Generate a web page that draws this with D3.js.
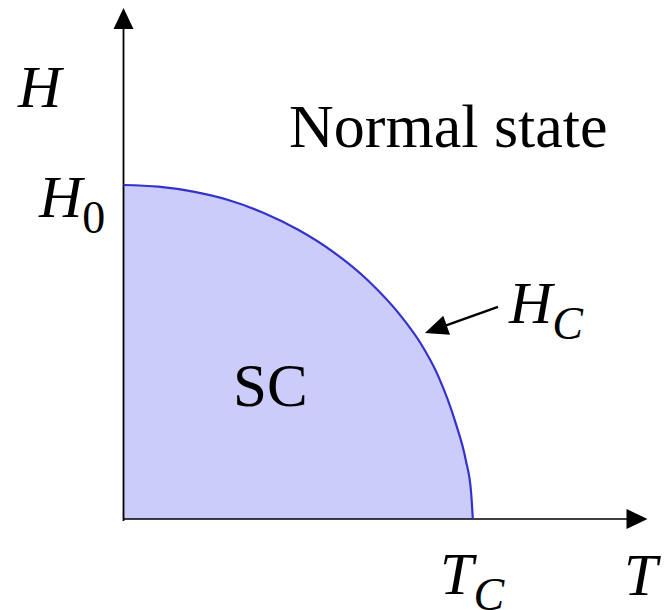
<!DOCTYPE html>
<html>
<head>
<meta charset="utf-8">
<script src="https://cdn.jsdelivr.net/npm/d3@7"></script>
<style>
  body { margin: 0; background: #fff; }
</style>
</head>
<body>
<svg id="chart" width="671" height="610"></svg>
<script>
// H_C(T) boundary (T in units of Tc, H in units of H0)
const tVals = [0, 0.1, 0.2, 0.3, 0.4, 0.5, 0.6, 0.7, 0.8, 0.85, 0.9, 0.95, 0.98, 0.995, 1];
const hVals = [1, 0.995, 0.98, 0.955, 0.917, 0.866, 0.80, 0.714, 0.60, 0.527, 0.43, 0.29, 0.175, 0.08, 0];
const axisMax = { t: 1.5, h: 1.53 };
const regionLabels = ["SC", "Normal state"];

const chart = d3.select("#chart");
const xs = d3.scaleLinear().domain([0, axisMax.t]).range([123.5, 647.5]);
const ys = d3.scaleLinear().domain([0, axisMax.h]).range([519, 8]);
const pts = tVals.map((t, i) => [t, hVals[i]]);

// shaded superconducting region
chart.append("path")
    .datum(pts)
    .attr("fill", "#ccccfa")
    .attr("d", d3.area()
        .x(d => xs(d[0]))
        .y0(ys(0))
        .y1(d => ys(d[1]))
        .curve(d3.curveMonotoneX));

function arrowHead(tx, ty, angle, len, half) {
    const c = Math.cos(angle), s = Math.sin(angle);
    const bx = tx - len * c, by = ty - len * s;
    return `M${tx},${ty}L${bx - half * s},${by + half * c}L${bx + half * s},${by - half * c}Z`;
}

// axes
chart.append("line")
    .attr("x1", xs(0)).attr("y1", ys(0))
    .attr("x2", xs(axisMax.t) - 10).attr("y2", ys(0))
    .attr("stroke", "#000").attr("stroke-width", 1.6);
chart.append("line")
    .attr("x1", xs(0)).attr("y1", ys(0) + 2)
    .attr("x2", xs(0)).attr("y2", ys(axisMax.h) + 10)
    .attr("stroke", "#000").attr("stroke-width", 1.8);
chart.append("path").attr("d", arrowHead(xs(axisMax.t), ys(0), 0, 21, 10)).attr("fill", "#000");
chart.append("path").attr("d", arrowHead(xs(0), ys(axisMax.h), -Math.PI / 2, 21, 10)).attr("fill", "#000");

// boundary curve
chart.append("path")
    .datum(pts)
    .attr("fill", "none")
    .attr("stroke", "#3333cc")
    .attr("stroke-width", 2.2)
    .attr("d", d3.line()
        .x(d => xs(d[0]))
        .y(d => ys(d[1]))
        .curve(d3.curveMonotoneX));

// arrow pointing at the curve
const tip = [0.863, 0.557], tail = [1.072, 0.635];
const ang = Math.atan2(ys(tip[1]) - ys(tail[1]), xs(tip[0]) - xs(tail[0]));
chart.append("line")
    .attr("x1", xs(tail[0])).attr("y1", ys(tail[1]))
    .attr("x2", xs(tip[0]) - 18 * Math.cos(ang)).attr("y2", ys(tip[1]) - 18 * Math.sin(ang))
    .attr("stroke", "#000").attr("stroke-width", 2.4);
chart.append("path").attr("d", arrowHead(xs(tip[0]), ys(tip[1]), ang, 23, 10)).attr("fill", "#000");

// text
function label(px, py, main, sub) {
    const t = chart.append("text")
        .attr("x", px).attr("y", py)
        .attr("font-family", "serif")
        .attr("font-size", 60)
        .attr("font-style", "italic");
    t.append("tspan").text(main);
    if (sub) {
        t.append("tspan")
            .attr("font-size", 46)
            .attr("dy", 16)
            .attr("font-style", sub === "0" ? "normal" : "italic")
            .text(sub);
    }
}

label(18, 107, "H");
label(39, 217, "H", "0");
label(509, 323, "H", "C");
label(440, 594, "T", "C");
label(624, 595, "T");

chart.append("text")
    .attr("x", 233).attr("y", 406)
    .attr("font-family", "serif")
    .attr("font-size", 61)
    .text(regionLabels[0]);

chart.append("text")
    .attr("x", 289).attr("y", 147)
    .attr("font-family", "serif")
    .attr("font-size", 62)
    .text(regionLabels[1]);
</script>
</body>
</html>
